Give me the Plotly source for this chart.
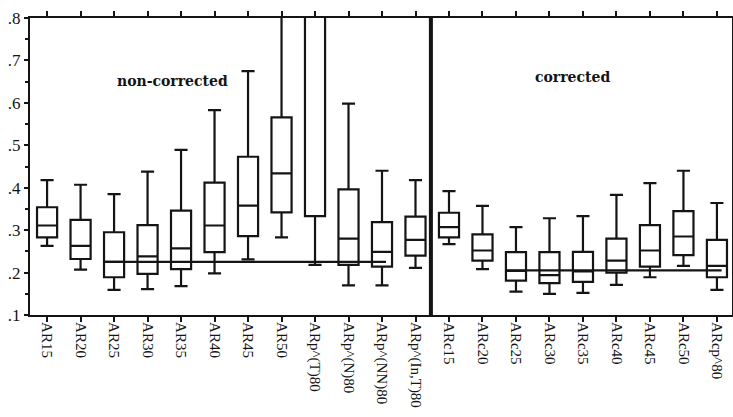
import plotly.graph_objects as go

# Category labels along the x axis
labels = ["AR15", "AR20", "AR25", "AR30", "AR35", "AR40", "AR45", "AR50",
          "ARp^(T)80", "ARp^(N)80", "ARp^(NN)80", "ARp^(In,T)80",
          "ARc15", "ARc20", "ARc25", "ARc30", "ARc35", "ARc40", "ARc45",
          "ARc50", "ARcp^80"]

# Box statistics per category
upper = [0.418, 0.407, 0.385, 0.438, 0.489, 0.583, 0.675, 0.95, 1.40, 0.598, 0.440, 0.418,
         0.392, 0.357, 0.307, 0.328, 0.333, 0.383, 0.411, 0.440, 0.364]
q3 = [0.354, 0.324, 0.295, 0.312, 0.346, 0.412, 0.473, 0.566, 1.10, 0.396, 0.319, 0.332,
      0.341, 0.290, 0.248, 0.248, 0.249, 0.280, 0.312, 0.345, 0.277]
median = [0.311, 0.263, 0.225, 0.238, 0.257, 0.311, 0.358, 0.434, 0.90, 0.280, 0.249, 0.277,
          0.307, 0.252, 0.204, 0.194, 0.203, 0.228, 0.252, 0.285, 0.216]
q1 = [0.283, 0.232, 0.189, 0.197, 0.208, 0.248, 0.286, 0.342, 0.333, 0.218, 0.214, 0.240,
      0.283, 0.228, 0.181, 0.175, 0.178, 0.200, 0.214, 0.241, 0.189]
lower = [0.263, 0.207, 0.159, 0.161, 0.168, 0.198, 0.231, 0.283, 0.218, 0.170, 0.170, 0.211,
         0.267, 0.208, 0.155, 0.150, 0.152, 0.171, 0.189, 0.216, 0.159]

# Reference levels drawn across each panel
ref_noncorr_x = [1.70, 10.12]
ref_noncorr_y = [0.225, 0.225]
ref_corr_x = [13.70, 20.14]
ref_corr_y = [0.205, 0.205]

# Y axis ticks
y_vals = [0.1, 0.2, 0.3, 0.4, 0.5, 0.6, 0.7, 0.8]
y_text = [".1", ".2", ".3", ".4", ".5", ".6", ".7", ".8"]

INK = "#141414"
SERIF = "Liberation Serif"

xs = list(range(len(labels)))

fig = go.Figure()
fig.add_trace(go.Box(
    x=xs, q1=q1, median=median, q3=q3, lowerfence=lower, upperfence=upper,
    width=0.6, whiskerwidth=0.65, boxpoints=False,
    fillcolor="white", line=dict(color=INK, width=2.2),
    showlegend=False, hoverinfo="skip",
))
for rx, ry in ((ref_noncorr_x, ref_noncorr_y), (ref_corr_x, ref_corr_y)):
    fig.add_trace(go.Scatter(x=rx, y=ry, mode="lines",
                             line=dict(color=INK, width=2.2),
                             showlegend=False, hoverinfo="skip"))

# Panel divider
fig.add_shape(type="line", xref="x", yref="paper", x0=11.46, x1=11.46, y0=0, y1=1,
              line=dict(color=INK, width=4))

fig.add_annotation(x=3.75, y=0.651, xref="x", yref="y", text="non-corrected",
                   showarrow=False,
                   font=dict(family="DejaVu Serif", size=14, color=INK, weight="bold"))
fig.add_annotation(x=15.7, y=0.661, xref="x", yref="y", text="corrected",
                   showarrow=False,
                   font=dict(family="DejaVu Serif", size=14, color=INK, weight="bold"))

fig.update_layout(
    width=733, height=417,
    margin=dict(l=30, r=1, t=18, b=102),
    paper_bgcolor="white", plot_bgcolor="white",
    font=dict(family=SERIF, color=INK),
    xaxis=dict(
        range=[-0.51, 20.45], tickvals=xs, ticktext=labels, tickangle=90,
        ticks="outside", ticklen=5, tickwidth=2, tickcolor=INK,
        showline=True, linewidth=2.2, linecolor=INK, mirror="ticks",
        showgrid=False, zeroline=False, automargin=False,
        tickfont=dict(family=SERIF, size=15, color=INK),
        ticklabelstandoff=-3,
    ),
    yaxis=dict(
        range=[0.1, 0.8], tickvals=y_vals, ticktext=y_text,
        ticks="outside", ticklen=4, tickwidth=2, tickcolor=INK,
        minor=dict(dtick=0.05, ticks="outside", ticklen=3, tickwidth=1.5, tickcolor=INK),
        showline=True, linewidth=2.2, linecolor=INK, mirror=True,
        showgrid=False, zeroline=False, automargin=False,
        tickfont=dict(family=SERIF, size=17, color=INK),
        ticklabelstandoff=0,
    ),
)

fig.write_html("out.html")
